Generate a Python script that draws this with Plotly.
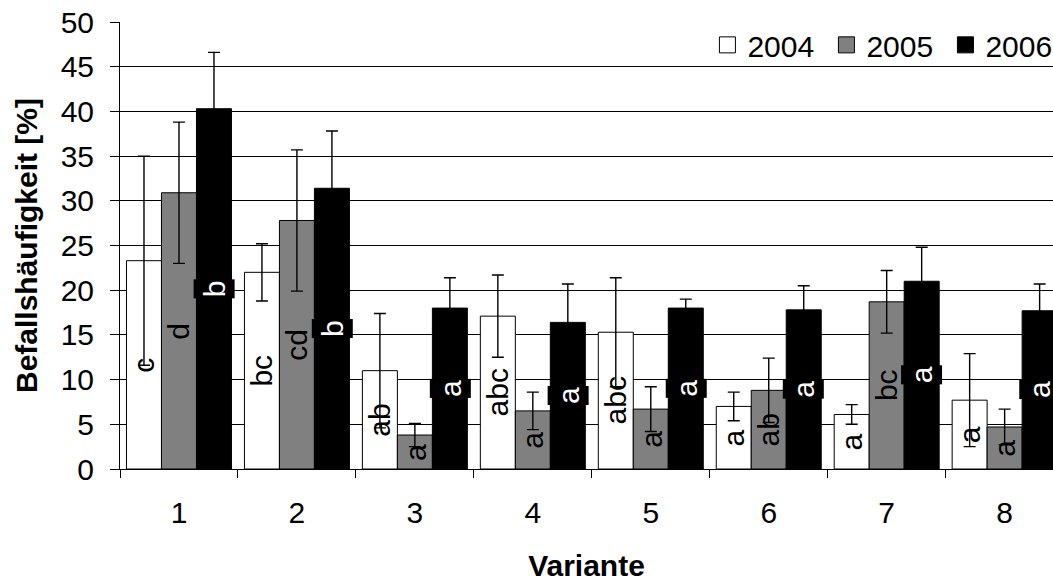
import plotly.graph_objects as go

varianten = ["1", "2", "3", "4", "5", "6", "7", "8"]
jahre = ["2004", "2005", "2006"]

werte_2004 = [23.3, 22.0, 11.0, 17.1, 15.3, 7.0, 6.1, 7.7]
fehler_2004 = [11.7, 3.2, 6.4, 4.6, 6.1, 1.6, 1.1, 5.2]
werte_2005 = [30.9, 27.8, 3.8, 6.5, 6.7, 8.8, 18.7, 4.7]
fehler_2005 = [7.9, 7.9, 1.3, 2.1, 2.5, 3.6, 3.5, 2.0]
werte_2006 = [40.3, 31.4, 18.0, 16.4, 18.0, 17.8, 21.0, 17.7]
fehler_2006 = [6.3, 6.4, 3.4, 4.3, 1.0, 2.7, 3.8, 3.0]

buchst_2004 = ["c", "bc", "ab", "abc", "abc", "a", "a", "a"]
buchst_2005 = ["d", "cd", "a", "a", "a", "ab", "bc", "a"]
buchst_2006 = ["b", "b", "a", "a", "a", "a", "a", "a"]

farben = ["#ffffff", "#808080", "#000000"]
FONT = "Liberation Sans, Arial, sans-serif"
BARGAP = 0.11

serien = [
    (werte_2004, fehler_2004, buchst_2004),
    (werte_2005, fehler_2005, buchst_2005),
    (werte_2006, fehler_2006, buchst_2006),
]

pos = list(range(len(varianten)))
fig = go.Figure()
for j, (werte, fehler, _) in enumerate(serien):
    fig.add_trace(go.Bar(
        x=pos, y=werte, name=jahre[j], showlegend=False,
        marker=dict(color=farben[j], line=dict(color="black", width=1)),
        error_y=dict(type="data", array=fehler, visible=True,
                     color="black", thickness=1.4, width=6),
    ))

# legend entries with larger square symbols
for j in range(3):
    fig.add_trace(go.Scatter(
        x=[None], y=[None], mode="markers", name=jahre[j],
        marker=dict(symbol="square", size=20, color=farben[j],
                    line=dict(color="black", width=1)),
    ))

# significance letters, centred in each bar
bw = (1 - BARGAP) / 3
annots = []
for j, (werte, _, buchst) in enumerate(serien):
    for i, (w, b) in enumerate(zip(werte, buchst)):
        xpos = i + (j - 1) * bw
        if j == 2:
            annots.append(dict(
                x=xpos, y=w / 2, xref="x", yref="y", text=b, showarrow=False,
                textangle=-90, bgcolor="black", borderpad=0,
                width=18, height=40,
                font=dict(family=FONT, size=30, color="white"),
            ))
        else:
            annots.append(dict(
                x=xpos, y=w / 2, xref="x", yref="y", text=b, showarrow=False,
                textangle=-90,
                font=dict(family=FONT, size=30, color="black"),
            ))

fig.update_layout(
    width=1053, height=584,
    margin=dict(l=120, r=0, t=22, b=115, pad=0, autoexpand=False),
    paper_bgcolor="white", plot_bgcolor="white",
    barmode="group", bargap=BARGAP, bargroupgap=0,
    font=dict(family=FONT, size=30, color="black"),
    annotations=annots,
    legend=dict(orientation="h", x=0.6296, xanchor="left", y=1.007, yanchor="top",
                bgcolor="rgba(0,0,0,0)", font=dict(size=30), itemwidth=30,
                entrywidth=74, entrywidthmode="pixels",
                tracegroupgap=0),
)

fig.update_xaxes(
    range=[-0.5, 7.41], tickmode="array", tickvals=pos, ticktext=varianten,
    ticks="", ticklabelstandoff=17, showgrid=False, zeroline=False,
    showline=True, linecolor="black", linewidth=1,
    tickfont=dict(size=30),
    minor=dict(tickmode="array", tickvals=[i - 0.5 for i in pos],
               ticks="outside", ticklen=8, tickcolor="black", tickwidth=1,
               showgrid=False),
    title=dict(text="Variante", font=dict(size=30, weight="bold"), standoff=26),
    automargin=False,
)
fig.update_yaxes(
    range=[0, 50], dtick=5, tick0=0, ticks="outside", ticklen=9,
    tickcolor="black", tickwidth=1, ticklabelstandoff=10,
    showgrid=True, gridcolor="black", gridwidth=1, zeroline=False,
    showline=True, linecolor="black", linewidth=1,
    tickfont=dict(size=30),
    title=dict(text="Befallshäufigkeit [%]", font=dict(size=30, weight="bold"),
               standoff=14),
    automargin=False,
)

fig.write_html("out.html")
